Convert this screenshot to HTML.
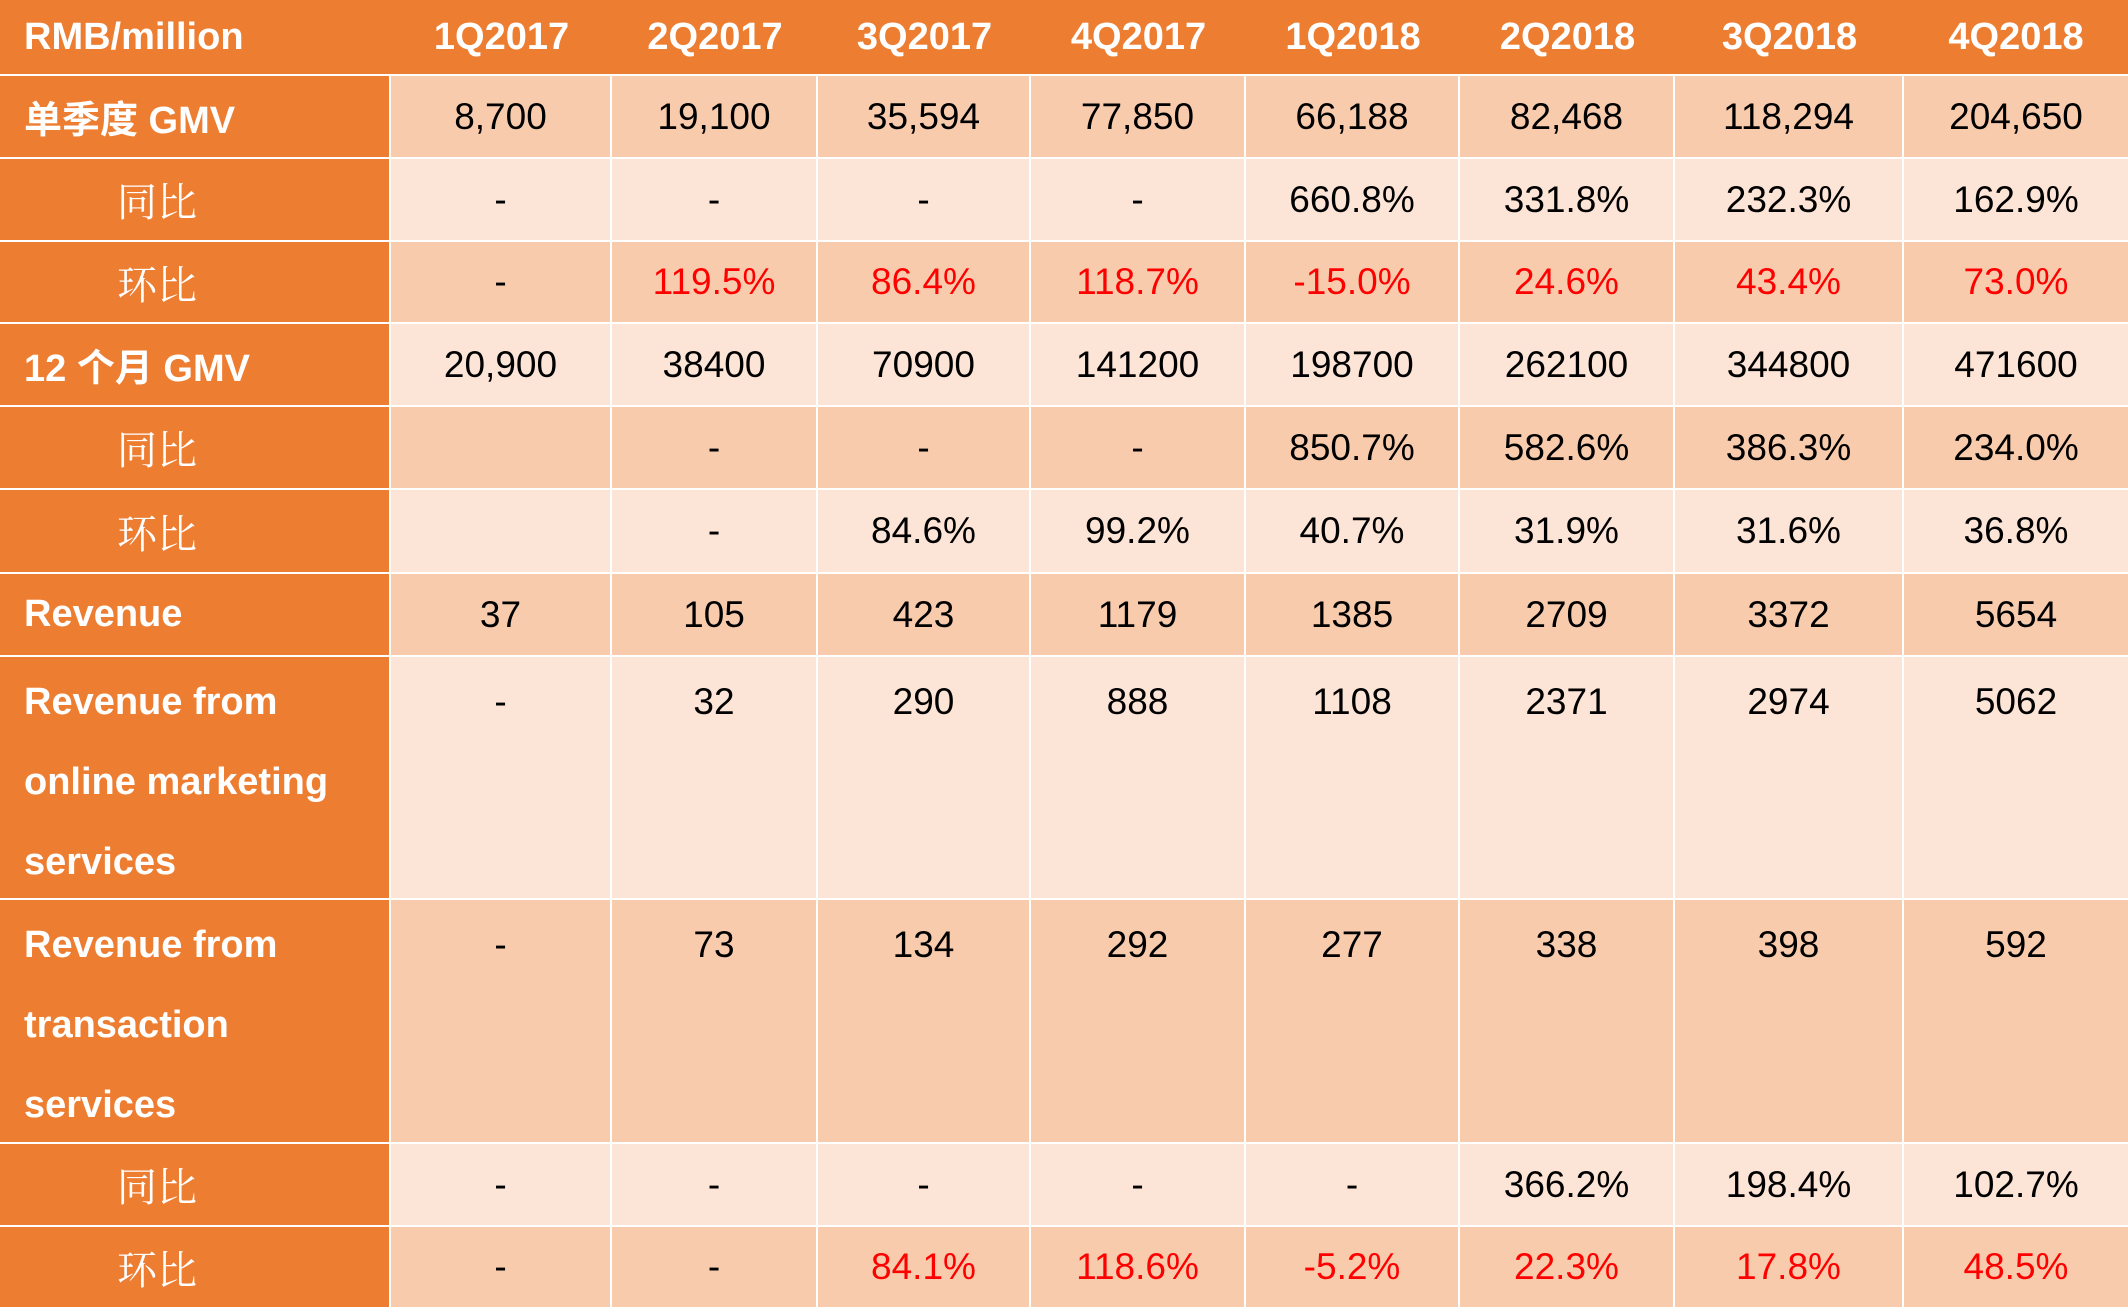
<!DOCTYPE html>
<html><head><meta charset="utf-8">
<style>
html,body{margin:0;padding:0;background:#fff;}
#t{position:relative;width:2128px;height:1307px;background:#fff;overflow:hidden;font-family:"Liberation Sans","Noto Sans CJK SC",sans-serif;}
.c{position:absolute;box-sizing:border-box;display:flex;align-items:center;justify-content:center;font-size:37px;color:#000;white-space:nowrap;}
.h{background:#ED7D31;color:#fff;font-weight:bold;font-size:38px;}
.l{background:#ED7D31;color:#fff;font-weight:bold;font-size:38px;justify-content:flex-start;padding-left:24px;}
.zh{font-family:"Noto Serif CJK SC","Liberation Serif",serif;font-weight:normal;font-size:40px;justify-content:flex-start;padding-left:117px;}
.tall{align-items:flex-start;padding-top:5px;line-height:80px;white-space:normal;}
.d{background:#F8CBAD;}
.lt{background:#FCE4D6;}
.red{color:#FF0000;}
</style></head>
<body>
<div id="t"></div>
<script>
const quarters=["1Q2017","2Q2017","3Q2017","4Q2017","1Q2018","2Q2018","3Q2018","4Q2018"];
const gmvQuarter=["8,700","19,100","35,594","77,850","66,188","82,468","118,294","204,650"];
const gmvQuarterYoY=["-","-","-","-","660.8%","331.8%","232.3%","162.9%"];
const gmvQuarterQoQ=["-","119.5%","86.4%","118.7%","-15.0%","24.6%","43.4%","73.0%"];
const gmv12m=["20,900","38400","70900","141200","198700","262100","344800","471600"];
const gmv12mYoY=["","-","-","-","850.7%","582.6%","386.3%","234.0%"];
const gmv12mQoQ=["","-","84.6%","99.2%","40.7%","31.9%","31.6%","36.8%"];
const revenue=["37","105","423","1179","1385","2709","3372","5654"];
const revOnline=["-","32","290","888","1108","2371","2974","5062"];
const revTrans=["-","73","134","292","277","338","398","592"];
const revTransYoY=["-","-","-","-","-","366.2%","198.4%","102.7%"];
const revTransQoQ=["-","-","84.1%","118.6%","-5.2%","22.3%","17.8%","48.5%"];

const colX=[0,391,612,818,1031,1246,1460,1675,1904,2128];
const rowY=[0,76,159,242,324,407,490,574,657,900,1144,1227,1307];
const rows=[
 {label:"单季度 GMV",vals:gmvQuarter,bg:"d",zh:false,red:false,name:"quarter-gmv"},
 {label:"同比",vals:gmvQuarterYoY,bg:"lt",zh:true,red:false,name:"quarter-gmv-yoy"},
 {label:"环比",vals:gmvQuarterQoQ,bg:"d",zh:true,red:true,name:"quarter-gmv-qoq"},
 {label:"12 个月 GMV",vals:gmv12m,bg:"lt",zh:false,red:false,name:"annual-gmv"},
 {label:"同比",vals:gmv12mYoY,bg:"d",zh:true,red:false,name:"annual-gmv-yoy"},
 {label:"环比",vals:gmv12mQoQ,bg:"lt",zh:true,red:false,name:"annual-gmv-qoq"},
 {label:"Revenue",vals:revenue,bg:"d",zh:false,red:false,name:"revenue"},
 {label:"Revenue from online marketing services",vals:revOnline,bg:"lt",zh:false,red:false,tall:true,name:"revenue-online-marketing"},
 {label:"Revenue from transaction services",vals:revTrans,bg:"d",zh:false,red:false,tall:true,name:"revenue-transaction"},
 {label:"同比",vals:revTransYoY,bg:"lt",zh:true,red:false,name:"transaction-yoy"},
 {label:"环比",vals:revTransQoQ,bg:"d",zh:true,red:true,name:"transaction-qoq"}
];
const T=document.getElementById('t');
function cell(x0,x1,y0,y1,cls,text,name){
  const el=document.createElement('div');
  el.className='c '+cls;
  el.style.left=x0+'px';el.style.top=y0+'px';
  el.style.width=(x1-x0)+'px';el.style.height=(y1-y0)+'px';
  el.textContent=text;
  
  
  T.appendChild(el);return el;
}
// header
const hb=cell(0,2128,0,rowY[1]-2,'h','','header-row');
cell(0,colX[1],0,rowY[1]-2,'l','RMB/million','header-unit');
quarters.forEach((q,i)=>{
  const e=cell(colX[i+1],colX[i+2],0,rowY[1]-2,'h',q,'header-'+q.toLowerCase());
  e.style.background='transparent';
});
rows.forEach((r,ri)=>{
  const y0=rowY[ri+1],y1=rowY[ri+2]-(ri===rows.length-1?0:2);
  let cls='l'+(r.zh?' zh':'')+(r.tall?' tall':'');
  cell(0,colX[1]-2,y0,y1,cls,r.label,r.name+'-label');
  r.vals.forEach((v,i)=>{
    const x1=colX[i+2]-(i===7?0:2);
    let c=r.bg+(r.tall?' tall':'');
    if(r.red && v.indexOf('%')>=0)c+=' red';
    cell(colX[i+1],x1,y0,y1,c,v,r.name+'-'+quarters[i].toLowerCase());
  });
});
</script>
</body></html>
